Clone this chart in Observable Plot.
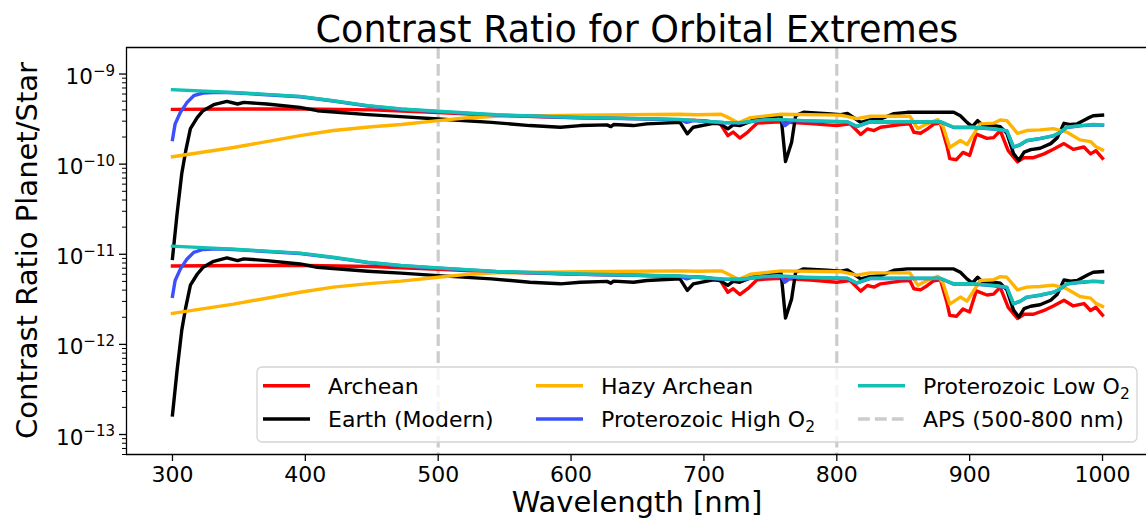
<!DOCTYPE html>
<html><head><meta charset="utf-8">
<script src="https://cdn.jsdelivr.net/npm/d3@7"></script>
<script src="https://cdn.jsdelivr.net/npm/@observablehq/plot@0.6"></script>
<style>
html,body{margin:0;padding:0;background:#fff;overflow:hidden;}
#chart svg{display:block;}
</style></head><body>
<div id="chart"></div>
<script>
// ---- data ----
const seriesNames = ["Archean","Earth (Modern)","Hazy Archean","Proterozoic High O2","Proterozoic Low O2"];
const seriesColors = ["#ff0000","#000000","#ffb400","#3b4fff","#14c0b4"];
const UNIT_NEAR = 1e-10; // upper group values are in units of 1e-10
const UNIT_FAR = 1e-12;  // lower group values are in units of 1e-12

const archeanWl = [300,350,400,450,500,550,600,650,700,712,718,722,727,733,740,758,780,800,810,818,823,828,833,848,855,858,863,868,873,878,883,885,890,895,900,905,913,918,923,929,936,941,948,956,963,971,978,986,991,995,1000];
const archeanNear = [4.05,4.10,4.10,4.00,3.73,3.45,3.30,3.20,3.04,2.85,2.07,2.27,1.95,2.27,2.85,2.96,2.82,2.68,2.80,2.13,2.46,2.36,2.57,2.75,2.80,2.26,2.20,2.45,2.78,2.85,1.57,1.15,1.12,1.35,1.25,2.15,1.93,1.97,2.35,1.41,1.06,1.18,1.18,1.30,1.46,1.69,1.46,1.55,1.30,1.41,1.16];
const archeanFar = [7.41,7.50,7.50,7.32,6.83,6.31,6.04,5.86,5.56,5.22,3.79,4.15,3.57,4.15,5.22,5.42,5.16,4.90,5.12,3.90,4.50,4.32,4.70,5.03,5.12,4.14,4.03,4.48,5.09,5.22,2.87,2.10,2.05,2.47,2.29,3.93,3.53,3.61,4.30,2.58,1.94,2.16,2.16,2.38,2.67,3.09,2.67,2.84,2.38,2.58,2.12];

const earthWl = [300,303.5,307,310,313.5,318.6,323,331,341,349,353.6,371,396,409,447,472,500,540,569,592,607,627,630,632,647,657,682,687.5,692,707,712,718,722,727,740,752,758,761.4,766,769,775,793,803,808,818,825,833,843,853,888,893,898,902,906,910,918,923,928,933,937,941,946,953,961,966,971,976,981,989,993,1000];
const earthNear = [0.090,0.284,0.787,1.41,2.48,3.28,3.92,4.57,4.97,4.65,4.85,4.65,4.27,3.92,3.54,3.37,3.17,2.91,2.68,2.57,2.68,2.73,2.61,2.75,2.68,2.80,2.91,2.17,2.57,2.84,2.80,2.47,2.73,2.68,3.20,3.37,3.45,1.07,1.75,3.45,3.76,3.63,3.54,3.66,2.91,3.09,3.17,3.63,3.76,3.76,3.45,2.91,2.61,3.04,2.68,2.68,2.61,2.20,1.31,1.10,1.36,1.45,1.50,1.69,1.97,2.84,2.75,2.80,3.24,3.45,3.50];
const earthFar = [0.165,0.520,1.44,2.58,4.54,6.00,7.17,8.36,9.10,8.51,8.88,8.51,7.81,7.17,6.48,6.17,5.80,5.33,4.90,4.70,4.90,5.00,4.78,5.03,4.90,5.12,5.33,3.97,4.70,5.20,5.12,4.52,5.00,4.90,5.86,6.17,6.31,1.96,3.20,6.31,6.88,6.64,6.48,6.70,5.33,5.65,5.80,6.64,6.88,6.88,6.31,5.33,4.78,5.56,4.90,4.90,4.78,4.03,2.40,2.01,2.49,2.65,2.75,3.09,3.61,5.20,5.03,5.12,5.93,6.31,6.41];

const hazyWl = [300,346,396,421,450,472,500,520,544,607,682,695,713,720,726,735,758,790,803,815,825,855,861,868,876,880,885,893,898,908,918,923,928,936,943,953,963,973,983,991,995,1000];
const hazyNear = [1.21,1.53,2.07,2.36,2.60,2.75,3.04,3.25,3.40,3.50,3.58,3.54,3.58,3.20,2.87,3.28,3.58,3.52,3.50,3.20,3.40,3.40,2.48,2.80,3.12,2.61,1.53,1.83,1.65,2.80,2.85,3.09,3.04,2.20,2.36,2.40,2.48,2.27,1.86,1.78,1.56,1.44];
const hazyFar = [2.21,2.80,3.79,4.32,4.76,5.03,5.56,5.95,6.22,6.41,6.55,6.48,6.55,5.86,5.25,6.00,6.55,6.44,6.41,5.86,6.22,6.22,4.54,5.12,5.71,4.78,2.80,3.35,3.02,5.12,5.22,5.65,5.56,4.03,4.32,4.39,4.54,4.15,3.40,3.26,2.85,2.64];

const highO2Wl = [300,302,306,311,316,323,334,346,396,421,447,472,500,544,607,682,687,692,715,728,745,758,761,766,775,808,815,825,878,888,903,918,928,933,938,943,953,963,968,973,983,993,1000];
const highO2Near = [1.87,2.80,3.76,4.85,5.75,6.16,6.26,6.20,5.60,5.02,4.42,4.07,3.83,3.50,3.27,3.12,2.91,3.05,2.88,2.87,3.08,3.12,2.68,3.05,3.02,2.94,2.61,2.94,2.94,2.55,2.55,2.45,2.33,1.54,1.64,1.82,1.92,2.06,2.24,2.55,2.66,2.73,2.70];
const highO2Far = [3.42,5.12,6.88,8.88,10.5,11.3,11.5,11.3,10.2,9.19,8.09,7.45,7.01,6.41,5.98,5.71,5.33,5.58,5.27,5.25,5.64,5.71,4.90,5.58,5.53,5.38,4.78,5.38,5.38,4.67,4.67,4.48,4.26,2.82,3.00,3.33,3.51,3.77,4.10,4.67,4.87,5.00,4.94];

const lowO2Wl = [300,346,396,421,447,472,500,544,607,682,695,715,728,745,758,775,808,815,825,878,888,903,918,928,933,938,943,953,963,968,973,983,993,1000];
const lowO2Near = [6.70,6.25,5.65,5.06,4.46,4.10,3.86,3.53,3.30,3.14,3.04,2.90,2.89,3.10,3.14,3.04,2.96,2.63,2.96,2.96,2.57,2.57,2.47,2.35,1.55,1.65,1.83,1.93,2.07,2.25,2.57,2.68,2.75,2.72];
const lowO2Far = [12.3,11.4,10.3,9.26,8.16,7.50,7.06,6.46,6.04,5.75,5.56,5.31,5.29,5.67,5.75,5.56,5.42,4.81,5.42,5.42,4.70,4.70,4.52,4.30,2.84,3.02,3.35,3.53,3.79,4.12,4.70,4.90,5.03,4.98];

const apsBounds = [500, 800];
const xTicks = [300,400,500,600,700,800,900,1000];
const yMajorTicks = [1e-13,1e-12,1e-11,1e-10,1e-9];

// ---- table ----
const seriesData = [
  [archeanWl, archeanNear, archeanFar],
  [earthWl, earthNear, earthFar],
  [hazyWl, hazyNear, hazyFar],
  [highO2Wl, highO2Near, highO2Far],
  [lowO2Wl, lowO2Near, lowO2Far]
];
const rows = [];
seriesData.forEach(([wl, near, far], i) => {
  wl.forEach((w, j) => rows.push({series: seriesNames[i], orbit: "near", wl: w, value: near[j] * UNIT_NEAR}));
  wl.forEach((w, j) => rows.push({series: seriesNames[i], orbit: "far", wl: w, value: far[j] * UNIT_FAR}));
});

const xDomain = [265.4, 1033.1];
const yDomain = [6.0e-14, 1.97e-9];
const yMinorTicks = [];
for (let k = -14; k <= -9; k++) for (let m = 2; m <= 9; m++) {
  const v = m * Math.pow(10, k);
  if (v >= yDomain[0] && v <= yDomain[1]) yMinorTicks.push(v);
}

const FONT = "DejaVu Sans, sans-serif";
const plot = Plot.plot({
  width: 1146, height: 522,
  marginLeft: 126, marginRight: 0, marginTop: 47, marginBottom: 68,
  x: {domain: xDomain, label: null},
  y: {type: "log", domain: yDomain, label: null},
  color: {domain: seriesNames, range: seriesColors},
  style: {fontFamily: FONT, fontSize: "22px", color: "#000", background: "#fff"},
  marks: [
    Plot.ruleX(apsBounds, {stroke: "#cccccc", strokeWidth: 3.2, strokeDasharray: "11.8,5.1"}),
    Plot.line(rows, {x: "wl", y: "value", z: d => d.series + "|" + d.orbit, stroke: "series",
      strokeWidth: 3.4, strokeLinejoin: "round", strokeLinecap: "square"}),
    Plot.ruleY([yDomain[0], yDomain[1]], {stroke: "#000", strokeWidth: 1.3}),
    Plot.ruleX([xDomain[0]], {stroke: "#000", strokeWidth: 1.3}),
    Plot.axisX(xTicks, {tickSize: 7, tickPadding: 5, fontSize: 22, strokeWidth: 1.3, label: null, tickFormat: d => String(d)}),
    Plot.axisY(yMajorTicks, {tickSize: 7, tickFormat: () => "", strokeWidth: 1.3, label: null}),
    Plot.axisY(yMinorTicks, {tickSize: 4, tickFormat: () => "", strokeWidth: 1.0, label: null})
  ]
});
document.getElementById("chart").appendChild(plot);

const svg = d3.select(plot);
const sy = plot.scale("y");
const g = svg.append("g").attr("font-family", FONT).attr("fill", "#000");

// y tick labels 10^k
yMajorTicks.forEach(v => {
  const e = Math.round(Math.log10(v));
  const y = sy.apply(v);
  const t = g.append("text").attr("x", 115).attr("y", y + 10.5).attr("text-anchor", "end").attr("font-size", 21.5);
  t.append("tspan").text("10");
  t.append("tspan").attr("font-size", 15).attr("dy", -8.5).text("\u2212" + Math.abs(e));
});

// title and axis labels
g.append("text").attr("x", 637).attr("y", 42).attr("text-anchor", "middle").attr("font-size", 36.5)
  .text("Contrast Ratio for Orbital Extremes");
g.append("text").attr("x", 637).attr("y", 512).attr("text-anchor", "middle").attr("font-size", 29)
  .text("Wavelength [nm]");
g.append("text").attr("transform", "translate(37,250.5) rotate(-90)").attr("text-anchor", "middle").attr("font-size", 29)
  .text("Contrast Ratio Planet/Star");

// legend
const lg = svg.append("g").attr("font-family", FONT).attr("text-anchor", "start");
lg.append("rect").attr("x", 257).attr("y", 367).attr("width", 880).attr("height", 75).attr("rx", 5)
  .attr("fill", "#fff").attr("fill-opacity", 0.8).attr("stroke", "#d4d4d4").attr("stroke-width", 1.3);
const legendItems = [
  {label: "Archean", color: seriesColors[0]},
  {label: "Earth (Modern)", color: seriesColors[1]},
  {label: "Hazy Archean", color: seriesColors[2]},
  {label: "Proterozoic High O", sub: "2", color: seriesColors[3]},
  {label: "Proterozoic Low O", sub: "2", color: seriesColors[4]},
  {label: "APS (500-800 nm)", color: "#cccccc", dash: true}
];
const colX = [263, 536, 858], rowY = [385.7, 419];
legendItems.forEach((it, i) => {
  const cx = colX[Math.floor(i / 2)], ry = rowY[i % 2];
  lg.append("line").attr("x1", cx).attr("x2", cx + 47).attr("y1", ry).attr("y2", ry)
    .attr("stroke", it.color).attr("stroke-width", 3.4)
    .attr("stroke-dasharray", it.dash ? "11.8,5.1" : null);
  const t = lg.append("text").attr("x", cx + 65).attr("y", ry + 8).attr("text-anchor", "start")
    .attr("font-size", 22).attr("fill", "#000");
  t.append("tspan").text(it.label);
  if (it.sub) t.append("tspan").attr("font-size", 15.5).attr("dy", 5).text(it.sub);
});
</script>
</body></html>
